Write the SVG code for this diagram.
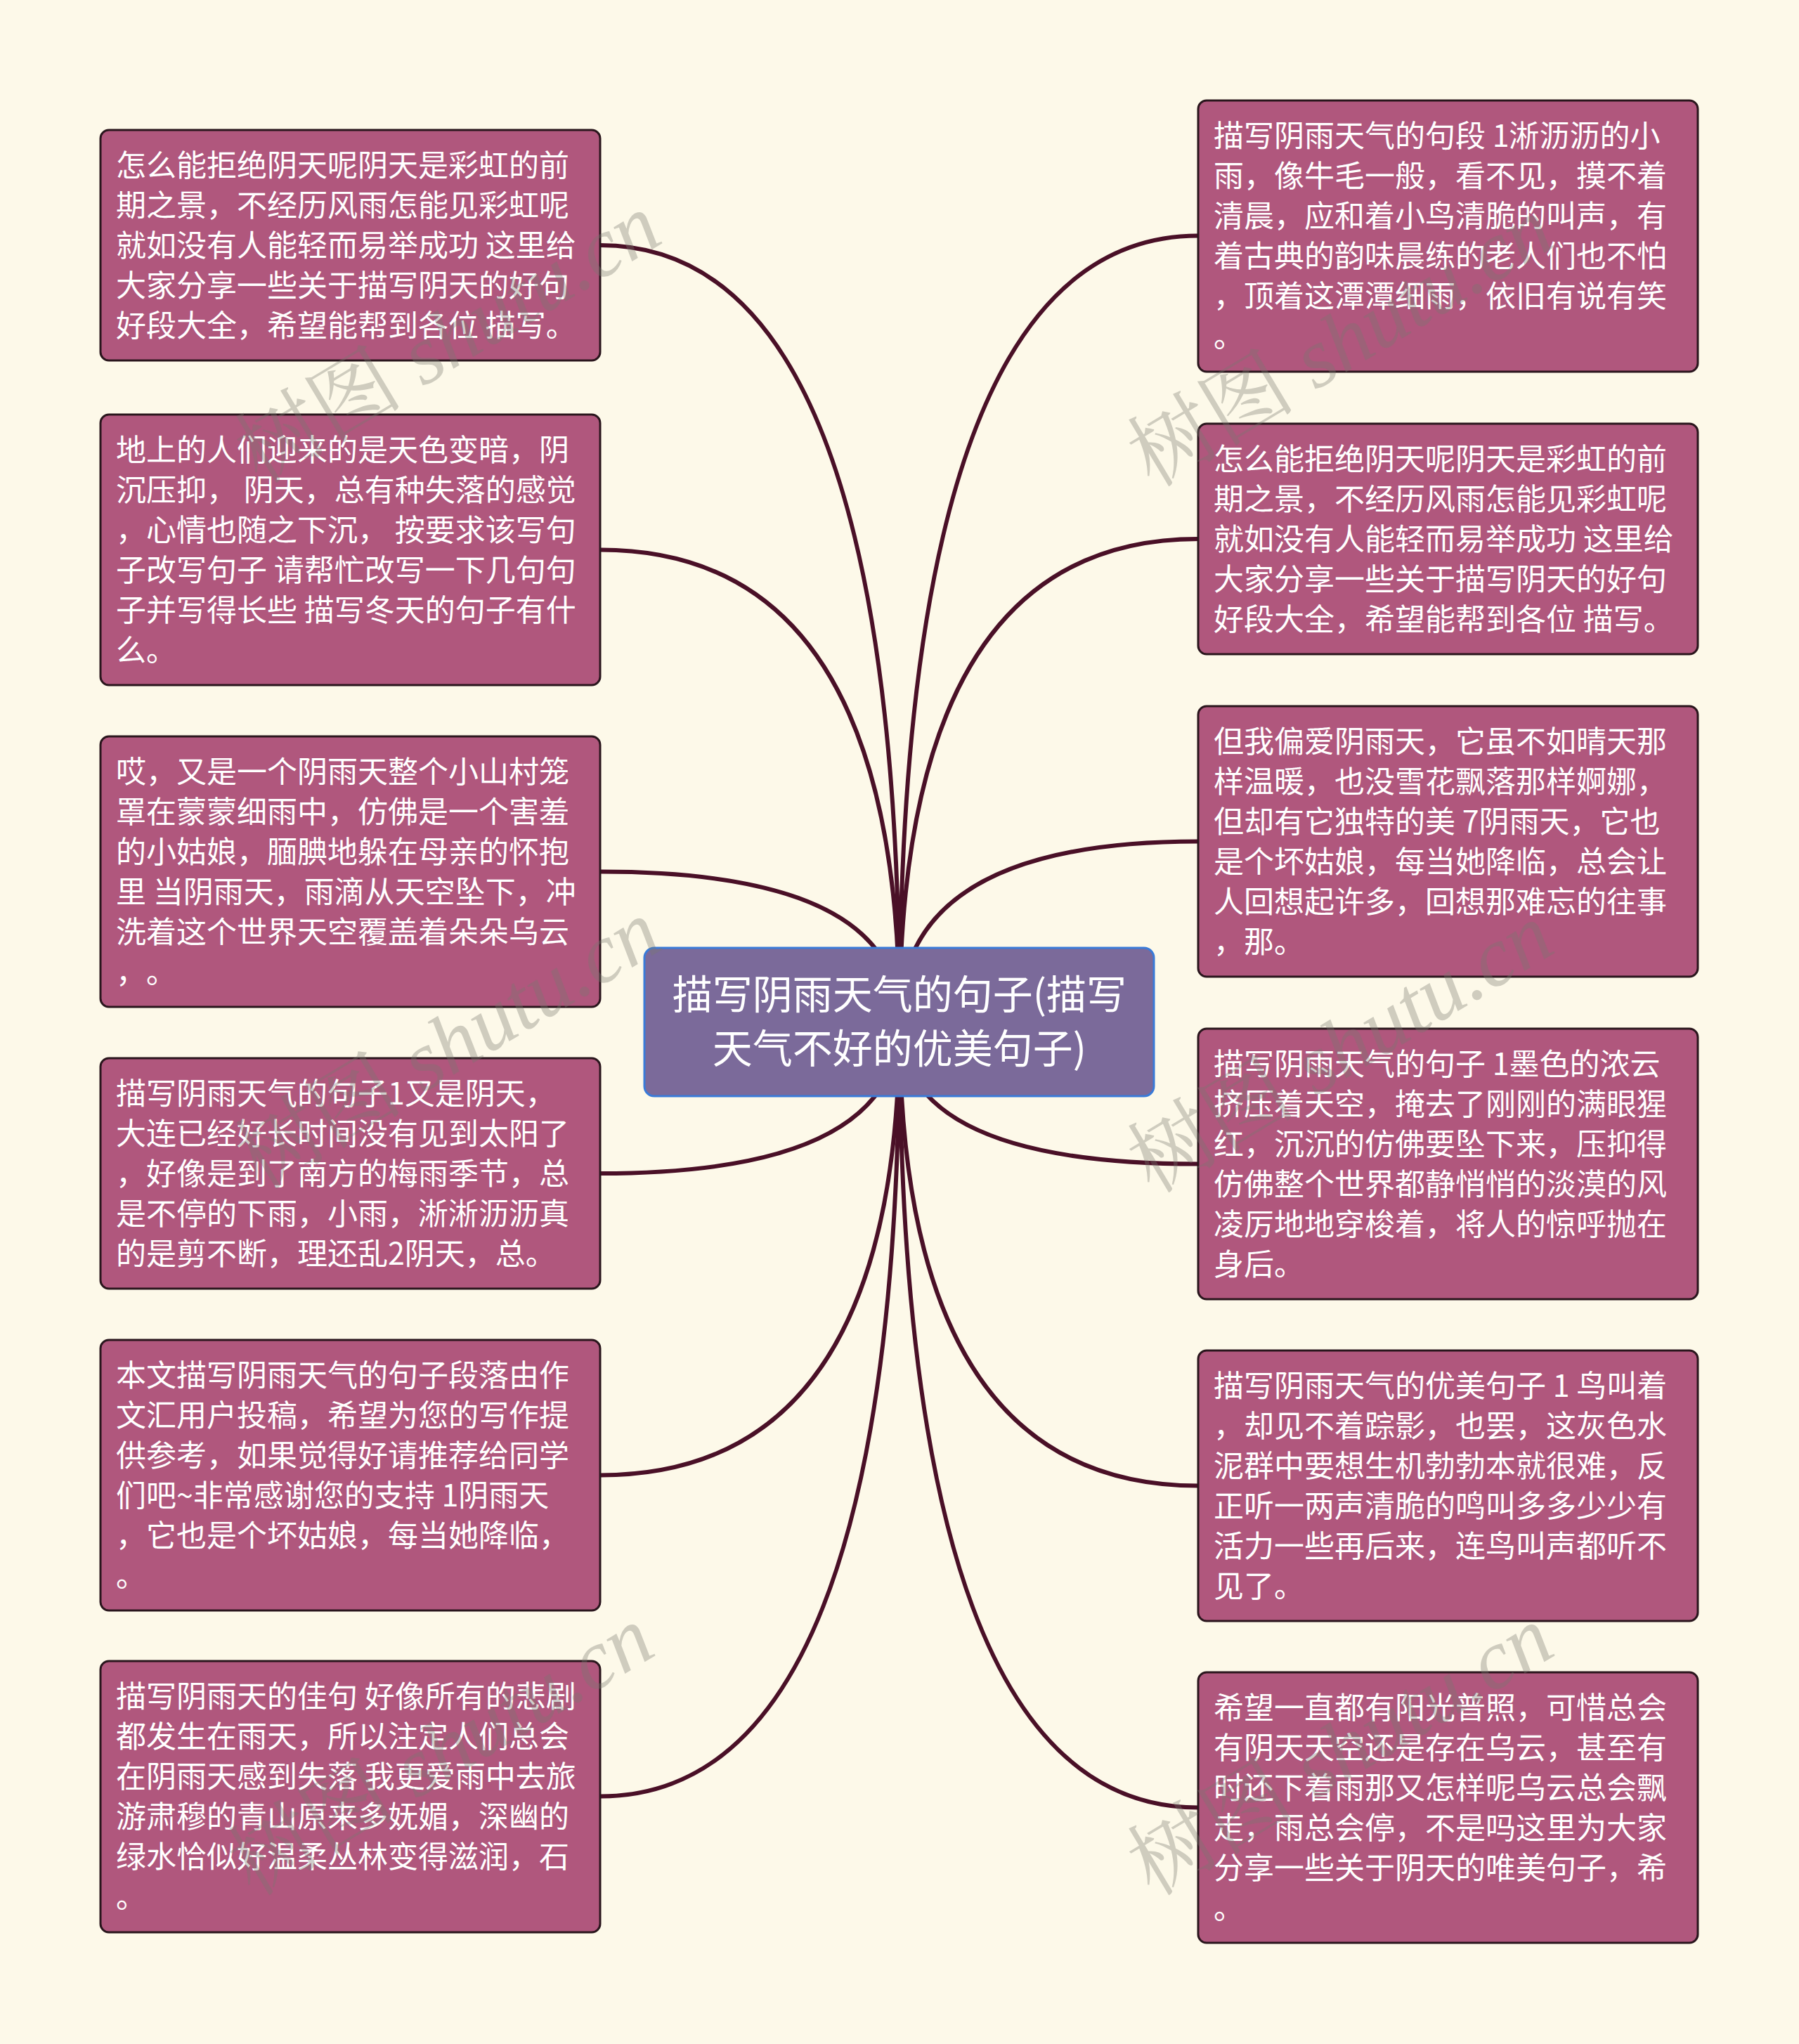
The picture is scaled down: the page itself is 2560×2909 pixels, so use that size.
<svg xmlns="http://www.w3.org/2000/svg" width="2560" height="2909" viewBox="0 0 2560 2909">
<style>
.node{fill:#b0577d;stroke:#2a161d;stroke-width:3}
.root{fill:#7b6a9a;stroke:#3a7bd8;stroke-width:3}
.t{font-family:"Noto Sans CJK SC","Noto Sans",sans-serif;font-size:43px;fill:#ffffff;text-spacing-trim:space-all}
.rt{font-family:"Noto Sans CJK SC","Noto Sans",sans-serif;font-size:57px;fill:#ffffff;text-anchor:middle}
.edge{fill:none;stroke:#4a1027;stroke-width:6}
.wm{font-size:120px;fill:#777770;fill-opacity:0.35}
.wm1{font-family:"Noto Serif CJK SC","Noto Sans CJK SC",serif}
.wm2{font-family:"Liberation Serif",serif;font-style:italic}
</style>
<rect x="0" y="0" width="2560" height="2909" fill="#fdf9e9"/>
<g id="connectors">
<path class="edge" d="M854,349 Q1280,349 1280,1454"/>
<path class="edge" d="M854,782.5 Q1280,782.5 1280,1454"/>
<path class="edge" d="M854,1240.5 Q1280,1240.5 1280,1454"/>
<path class="edge" d="M854,1670 Q1280,1670 1280,1454"/>
<path class="edge" d="M854,2099.5 Q1280,2099.5 1280,1454"/>
<path class="edge" d="M854,2556.5 Q1280,2556.5 1280,1454"/>
<path class="edge" d="M1705,335.5 Q1280,335.5 1280,1454"/>
<path class="edge" d="M1705,767 Q1280,767 1280,1454"/>
<path class="edge" d="M1705,1197.5 Q1280,1197.5 1280,1454"/>
<path class="edge" d="M1705,1656.5 Q1280,1656.5 1280,1454"/>
<path class="edge" d="M1705,2114.5 Q1280,2114.5 1280,1454"/>
<path class="edge" d="M1705,2572.5 Q1280,2572.5 1280,1454"/>
</g>
<g id="root">
<rect class="root" x="917" y="1349" width="725" height="211" rx="14"/>
<text class="rt" x="1280" y="1436">描写阴雨天气的句子(描写</text>
<text class="rt" x="1280" y="1513">天气不好的优美句子)</text>
</g>
<g id="L1">
<rect class="node" x="143" y="185" width="711" height="328" rx="12"/>
<text class="t"><tspan x="165" y="251">怎么能拒绝阴天呢阴天是彩虹的前</tspan><tspan x="165" y="308">期之景，不经历风雨怎能见彩虹呢</tspan><tspan x="165" y="365">就如没有人能轻而易举成功 这里给</tspan><tspan x="165" y="422">大家分享一些关于描写阴天的好句</tspan><tspan x="165" y="479">好段大全，希望能帮到各位 描写。</tspan></text>
</g>
<g id="L2">
<rect class="node" x="143" y="590" width="711" height="385" rx="12"/>
<text class="t"><tspan x="165" y="656">地上的人们迎来的是天色变暗，阴</tspan><tspan x="165" y="713">沉压抑， 阴天，总有种失落的感觉</tspan><tspan x="165" y="770">，心情也随之下沉， 按要求该写句</tspan><tspan x="165" y="827">子改写句子 请帮忙改写一下几句句</tspan><tspan x="165" y="884">子并写得长些 描写冬天的句子有什</tspan><tspan x="165" y="941">么。</tspan></text>
</g>
<g id="L3">
<rect class="node" x="143" y="1048" width="711" height="385" rx="12"/>
<text class="t"><tspan x="165" y="1114">哎，又是一个阴雨天整个小山村笼</tspan><tspan x="165" y="1171">罩在蒙蒙细雨中，仿佛是一个害羞</tspan><tspan x="165" y="1228">的小姑娘，腼腆地躲在母亲的怀抱</tspan><tspan x="165" y="1285">里 当阴雨天，雨滴从天空坠下，冲</tspan><tspan x="165" y="1342">洗着这个世界天空覆盖着朵朵乌云</tspan><tspan x="165" y="1399">，</tspan><tspan x="208" y="1399">。</tspan></text>
</g>
<g id="L4">
<rect class="node" x="143" y="1506" width="711" height="328" rx="12"/>
<text class="t"><tspan x="165" y="1572">描写阴雨天气的句子1又是阴天，</tspan><tspan x="165" y="1629">大连已经好长时间没有见到太阳了</tspan><tspan x="165" y="1686">，好像是到了南方的梅雨季节，总</tspan><tspan x="165" y="1743">是不停的下雨，小雨，淅淅沥沥真</tspan><tspan x="165" y="1800">的是剪不断，理还乱2阴天，总。</tspan></text>
</g>
<g id="L5">
<rect class="node" x="143" y="1907" width="711" height="385" rx="12"/>
<text class="t"><tspan x="165" y="1973">本文描写阴雨天气的句子段落由作</tspan><tspan x="165" y="2030">文汇用户投稿，希望为您的写作提</tspan><tspan x="165" y="2087">供参考，如果觉得好请推荐给同学</tspan><tspan x="165" y="2144">们吧~非常感谢您的支持 1阴雨天</tspan><tspan x="165" y="2201">，它也是个坏姑娘，每当她降临，</tspan><tspan x="165" y="2258">。</tspan></text>
</g>
<g id="L6">
<rect class="node" x="143" y="2364" width="711" height="386" rx="12"/>
<text class="t"><tspan x="165" y="2430">描写阴雨天的佳句 好像所有的悲剧</tspan><tspan x="165" y="2487">都发生在雨天，所以注定人们总会</tspan><tspan x="165" y="2544">在阴雨天感到失落 我更爱雨中去旅</tspan><tspan x="165" y="2601">游肃穆的青山原来多妩媚，深幽的</tspan><tspan x="165" y="2658">绿水恰似好温柔丛林变得滋润，石</tspan><tspan x="165" y="2715">。</tspan></text>
</g>
<g id="R1">
<rect class="node" x="1705" y="143" width="711" height="386" rx="12"/>
<text class="t"><tspan x="1727" y="209">描写阴雨天气的句段 1淅沥沥的小</tspan><tspan x="1727" y="266">雨，像牛毛一般，看不见，摸不着</tspan><tspan x="1727" y="323">清晨，应和着小鸟清脆的叫声，有</tspan><tspan x="1727" y="380">着古典的韵味晨练的老人们也不怕</tspan><tspan x="1727" y="437">，顶着这潭潭细雨，依旧有说有笑</tspan><tspan x="1727" y="494">。</tspan></text>
</g>
<g id="R2">
<rect class="node" x="1705" y="603" width="711" height="328" rx="12"/>
<text class="t"><tspan x="1727" y="669">怎么能拒绝阴天呢阴天是彩虹的前</tspan><tspan x="1727" y="726">期之景，不经历风雨怎能见彩虹呢</tspan><tspan x="1727" y="783">就如没有人能轻而易举成功 这里给</tspan><tspan x="1727" y="840">大家分享一些关于描写阴天的好句</tspan><tspan x="1727" y="897">好段大全，希望能帮到各位 描写。</tspan></text>
</g>
<g id="R3">
<rect class="node" x="1705" y="1005" width="711" height="385" rx="12"/>
<text class="t"><tspan x="1727" y="1071">但我偏爱阴雨天，它虽不如晴天那</tspan><tspan x="1727" y="1128">样温暖，也没雪花飘落那样婀娜，</tspan><tspan x="1727" y="1185">但却有它独特的美 7阴雨天，它也</tspan><tspan x="1727" y="1242">是个坏姑娘，每当她降临，总会让</tspan><tspan x="1727" y="1299">人回想起许多，回想那难忘的往事</tspan><tspan x="1727" y="1356">，那。</tspan></text>
</g>
<g id="R4">
<rect class="node" x="1705" y="1464" width="711" height="385" rx="12"/>
<text class="t"><tspan x="1727" y="1530">描写阴雨天气的句子 1墨色的浓云</tspan><tspan x="1727" y="1587">挤压着天空，掩去了刚刚的满眼猩</tspan><tspan x="1727" y="1644">红，沉沉的仿佛要坠下来，压抑得</tspan><tspan x="1727" y="1701">仿佛整个世界都静悄悄的淡漠的风</tspan><tspan x="1727" y="1758">凌厉地地穿梭着，将人的惊呼抛在</tspan><tspan x="1727" y="1815">身后。</tspan></text>
</g>
<g id="R5">
<rect class="node" x="1705" y="1922" width="711" height="385" rx="12"/>
<text class="t"><tspan x="1727" y="1988">描写阴雨天气的优美句子 1 鸟叫着</tspan><tspan x="1727" y="2045">，却见不着踪影，也罢，这灰色水</tspan><tspan x="1727" y="2102">泥群中要想生机勃勃本就很难，反</tspan><tspan x="1727" y="2159">正听一两声清脆的鸣叫多多少少有</tspan><tspan x="1727" y="2216">活力一些再后来，连鸟叫声都听不</tspan><tspan x="1727" y="2273">见了。</tspan></text>
</g>
<g id="R6">
<rect class="node" x="1705" y="2380" width="711" height="385" rx="12"/>
<text class="t"><tspan x="1727" y="2446">希望一直都有阳光普照，可惜总会</tspan><tspan x="1727" y="2503">有阴天天空还是存在乌云，甚至有</tspan><tspan x="1727" y="2560">时还下着雨那又怎样呢乌云总会飘</tspan><tspan x="1727" y="2617">走，雨总会停，不是吗这里为大家</tspan><tspan x="1727" y="2674">分享一些关于阴天的唯美句子，希</tspan><tspan x="1727" y="2731">。</tspan></text>
</g>
<g id="watermarks" class="wm">
<text transform="translate(370,690) rotate(-31)"><tspan class="wm1">树图</tspan><tspan class="wm2"> shutu.cn</tspan></text>
<text transform="translate(370,1695) rotate(-31)"><tspan class="wm1">树图</tspan><tspan class="wm2"> shutu.cn</tspan></text>
<text transform="translate(360,2700) rotate(-31)"><tspan class="wm1">树图</tspan><tspan class="wm2"> shutu.cn</tspan></text>
<text transform="translate(1640,695) rotate(-31)"><tspan class="wm1">树图</tspan><tspan class="wm2"> shutu.cn</tspan></text>
<text transform="translate(1640,1700) rotate(-31)"><tspan class="wm1">树图</tspan><tspan class="wm2"> shutu.cn</tspan></text>
<text transform="translate(1640,2700) rotate(-31)"><tspan class="wm1">树图</tspan><tspan class="wm2"> shutu.cn</tspan></text>
</g>
</svg>
